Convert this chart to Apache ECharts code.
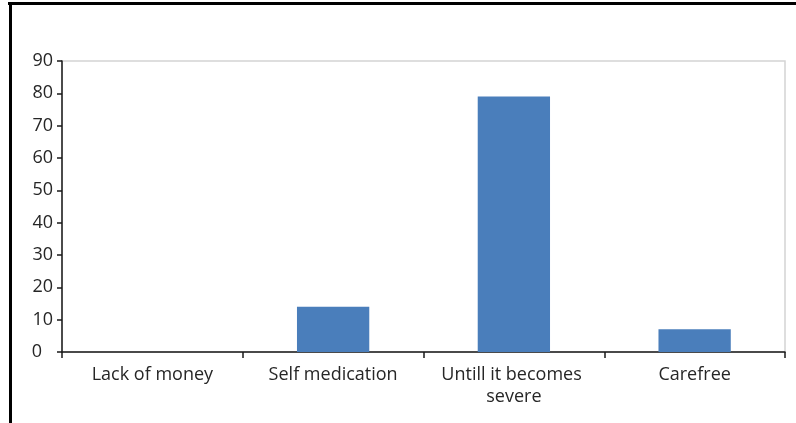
<!DOCTYPE html>
<html>
<head>
<meta charset="utf-8">
<script src="https://cdn.jsdelivr.net/npm/echarts@6/dist/echarts.min.js"></script>
<style>
  html, body { margin: 0; padding: 0; background: #fff; }
  #chart { width: 796px; height: 423px; }
</style>
</head>
<body>
<div id="chart"></div>
<script>
// Reasons for delaying treatment
const categories = ['Lack of money', 'Self medication', 'Untill it becomes severe', 'Carefree'];
const values = [0, 14, 79, 7];
const yTicks = { min: 0, max: 90, interval: 10 };

const chart = echarts.init(document.getElementById('chart'));
const textColor = '#262626';
const font = 'Open Sans';

chart.setOption({
  animation: false,
  backgroundColor: '#ffffff',
  graphic: [
    // frame lines at top and left
    { type: 'rect', shape: { x: 8, y: 2, width: 788, height: 3 }, style: { fill: '#000' } },
    { type: 'rect', shape: { x: 9, y: 2, width: 3, height: 421 }, style: { fill: '#000' } }
  ],
  grid: {
    left: 62, right: 11, top: 61, bottom: 71,
    show: true, borderColor: '#d4d4d4', borderWidth: 1.5
  },
  xAxis: {
    type: 'category',
    data: categories,
    axisLine: { lineStyle: { color: '#1a1a1a', width: 1.5 } },
    axisTick: { show: true, length: 6, lineStyle: { color: '#1a1a1a', width: 1.5 } },
    axisLabel: {
      color: textColor, fontFamily: font, fontSize: 18, margin: 12,
      lineHeight: 22, width: 175, overflow: 'break', interval: 0
    }
  },
  yAxis: {
    type: 'value',
    min: yTicks.min, max: yTicks.max, interval: yTicks.interval,
    axisLine: { show: true, lineStyle: { color: '#1a1a1a', width: 1.5 } },
    axisTick: { show: true, length: 5, lineStyle: { color: '#1a1a1a', width: 1.5 } },
    splitLine: { show: false },
    axisLabel: {
      color: textColor, fontFamily: font, fontSize: 18, margin: 9,
      // the zero label sits flush with the left edge of the other labels
      formatter: v => (v === 0 ? '{z|0}' : String(v)),
      rich: { z: { color: textColor, fontFamily: font, fontSize: 18, padding: [0, 11, 0, 0] } }
    }
  },
  series: [{
    type: 'bar',
    data: values,
    barWidth: '40%',
    itemStyle: { color: '#4a7ebb' }
  }]
});
</script>
</body>
</html>
